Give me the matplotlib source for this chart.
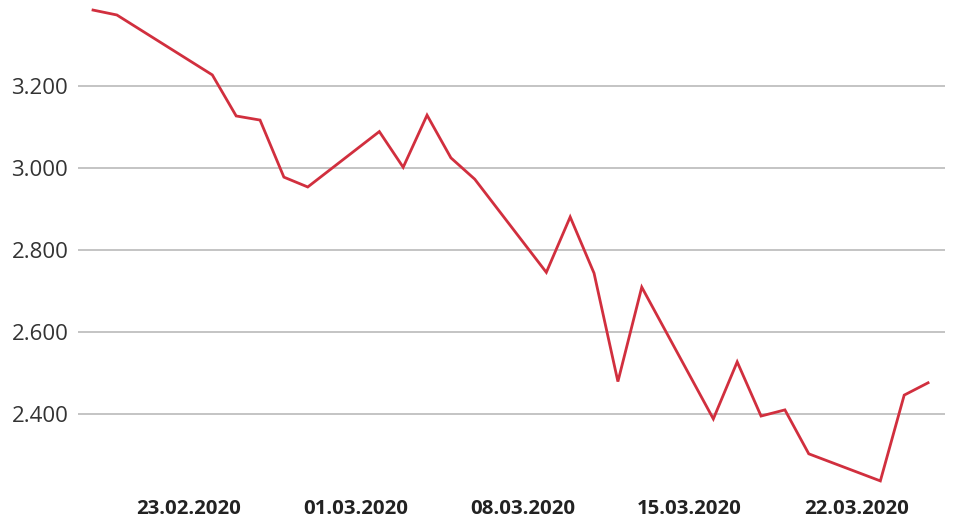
import pandas as pd
import numpy as np
import matplotlib
matplotlib.use('Agg')
import matplotlib.pyplot as plt
import matplotlib.dates as mdates
from matplotlib.ticker import FuncFormatter

# Data
dates = ['2020-02-19', '2020-02-20', '2020-02-24', '2020-02-25', '2020-02-26',
         '2020-02-27', '2020-02-28', '2020-03-02', '2020-03-03', '2020-03-04',
         '2020-03-05', '2020-03-06', '2020-03-09', '2020-03-10', '2020-03-11',
         '2020-03-12', '2020-03-13', '2020-03-16', '2020-03-17', '2020-03-18',
         '2020-03-19', '2020-03-20', '2020-03-23', '2020-03-24', '2020-03-25']
values = [3385, 3373, 3227, 3127, 3117,
          2978, 2954, 3089, 3002, 3129,
          3025, 2973, 2746, 2881, 2744,
          2480, 2710, 2389, 2528, 2396,
          2411, 2304, 2238, 2447, 2477]
yticks = [2400, 2600, 2800, 3000, 3200]
xticks = ['2020-02-23', '2020-03-01', '2020-03-08', '2020-03-15', '2020-03-22']

x = pd.to_datetime(dates)

fig = plt.figure(figsize=(9.6, 5.25), dpi=100)
ax = fig.add_axes([78 / 960, 1 - 488.3 / 525, (945 - 78) / 960, (488.3 - 3.9) / 525])

ax.plot(x, values, color='#d12f3e', linewidth=2.0, solid_joinstyle='miter', zorder=3)

# Axis limits
ax.set_ylim(2220, 3400)
ax.set_xlim(mdates.date2num(x[0]) - 0.63, mdates.date2num(x[-1]) + 0.71)

# Ticks and grid
ax.set_yticks(yticks)
ax.yaxis.set_major_formatter(FuncFormatter(lambda v, p: f'{int(v):,}'.replace(',', '.')))
ax.set_xticks(pd.to_datetime(xticks))
ax.xaxis.set_major_formatter(mdates.DateFormatter('%d.%m.%Y'))
ax.grid(axis='y', color='#c4c4c4', linewidth=1.4)
ax.set_axisbelow(True)
ax.tick_params(axis='both', length=0)
ax.tick_params(axis='y', pad=7, labelsize=16, labelcolor='#333333')
ax.tick_params(axis='x', pad=8, labelsize=14.7, labelcolor='#222222')
for lbl in ax.get_yticklabels():
    lbl.set_fontfamily('Open Sans')
for lbl in ax.get_xticklabels():
    lbl.set_fontfamily('Open Sans')
    lbl.set_fontweight('bold')

for s in ax.spines.values():
    s.set_visible(False)

fig.savefig('out.png', dpi=100)
